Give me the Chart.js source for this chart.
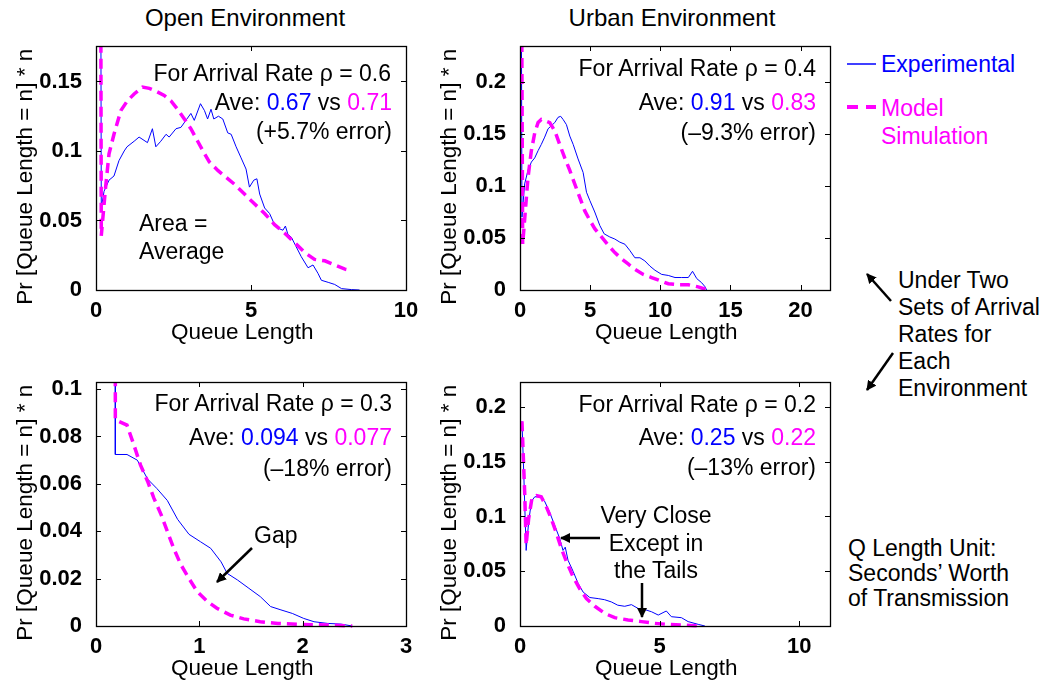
<!DOCTYPE html>
<html>
<head>
<meta charset="utf-8">
<script src="https://cdn.jsdelivr.net/npm/chart.js@4.4.1/dist/chart.umd.min.js"></script>
<style>
body { margin: 0; width: 1044px; height: 683px; background: #fff; position: relative; overflow: hidden; font-family: "Liberation Sans", Arial, sans-serif; }
.panel { position: absolute; width: 420px; height: 310px; }
.t { position: absolute; font-size: 23px; line-height: 26px; white-space: nowrap; color: #000; }
.h { font-size: 24px; line-height: 28px; }
.r { text-align: right; }
.c { transform: translateX(-50%); text-align: center; }
.b { color: #0000ff; }
.m { color: #ff00ff; }
svg { position: absolute; left: 0; top: 0; }
</style>
</head>
<body>
<div class="panel" style="left:0;top:36px"><canvas id="openHigh" width="420" height="310"></canvas></div>
<div class="panel" style="left:424px;top:36px"><canvas id="urbanHigh" width="420" height="310"></canvas></div>
<div class="panel" style="left:0;top:372px"><canvas id="openLow" width="420" height="310"></canvas></div>
<div class="panel" style="left:424px;top:372px"><canvas id="urbanLow" width="420" height="310"></canvas></div>

<div class="t h c" style="left:245px;top:4px">Open Environment</div>
<div class="t h c" style="left:672px;top:4px">Urban Environment</div>

<div class="t r" style="right:653px;top:60px">For Arrival Rate ρ = 0.6</div>
<div class="t r" style="right:652px;top:89px">Ave: <span class="b">0.67</span> vs <span class="m">0.71</span></div>
<div class="t r" style="right:652px;top:118px">(+5.7% error)</div>
<div class="t" style="left:139px;top:210px">Area =</div>
<div class="t" style="left:139px;top:238px">Average</div>

<div class="t r" style="right:228px;top:55px">For Arrival Rate ρ = 0.4</div>
<div class="t r" style="right:228px;top:89px">Ave: <span class="b">0.91</span> vs <span class="m">0.83</span></div>
<div class="t r" style="right:228px;top:119px">(–9.3% error)</div>

<div class="t r" style="right:652px;top:390px">For Arrival Rate ρ = 0.3</div>
<div class="t r" style="right:652px;top:424px">Ave: <span class="b">0.094</span> vs <span class="m">0.077</span></div>
<div class="t r" style="right:652px;top:455px">(–18% error)</div>
<div class="t" style="left:254px;top:522px">Gap</div>

<div class="t r" style="right:228px;top:391px">For Arrival Rate ρ = 0.2</div>
<div class="t r" style="right:228px;top:424px">Ave: <span class="b">0.25</span> vs <span class="m">0.22</span></div>
<div class="t r" style="right:228px;top:454px">(–13% error)</div>
<div class="t c" style="left:656px;top:502px">Very Close</div>
<div class="t c" style="left:656px;top:530px">Except in</div>
<div class="t c" style="left:656px;top:557px">the Tails</div>

<div class="t b" style="left:881px;top:51px">Experimental</div>
<div class="t m" style="left:881px;top:95px">Model</div>
<div class="t m" style="left:881px;top:123px">Simulation</div>

<div class="t" style="left:898px;top:267px;line-height:27px">Under Two<br>Sets of Arrival<br>Rates for<br>Each<br>Environment</div>
<div class="t" style="left:848px;top:536px;line-height:25px">Q Length Unit:<br>Seconds’ Worth<br>of Transmission</div>

<svg width="1044" height="683">
  <defs>
    <marker id="head" viewBox="0 0 10 10" refX="9" refY="5" markerWidth="4" markerHeight="4" orient="auto">
      <path d="M0,0 L10,5 L0,10 z" fill="#000"/>
    </marker>
  </defs>
  <g stroke="#000" stroke-width="2.5" marker-end="url(#head)">
    <line x1="252" y1="548" x2="217" y2="582"/>
    <line x1="600" y1="538" x2="561" y2="538"/>
    <line x1="642" y1="583" x2="642" y2="617"/>
    <line x1="891" y1="301" x2="867" y2="274"/>
    <line x1="893" y1="353" x2="867" y2="390"/>
  </g>
  <line x1="847" y1="64" x2="876" y2="64" stroke="#0000ff" stroke-width="1.5"/>
  <line x1="847" y1="107" x2="876" y2="107" stroke="#ff00ff" stroke-width="4" stroke-dasharray="11,8"/>
</svg>

<script>
// Open environment, rho = 0.6
const openHighExpX = [0.13, 0.17, 0.26, 0.42, 0.58, 0.74, 0.91, 1.0, 1.23, 1.39, 1.66, 1.82, 1.93, 2.09, 2.26, 2.36, 2.58, 2.74, 2.9, 3.06, 3.17, 3.37, 3.5, 3.6, 3.71, 3.8, 3.95, 4.09, 4.25, 4.36, 4.52, 4.68, 4.84, 4.95, 5.09, 5.19, 5.28, 5.44, 5.6, 5.76, 5.92, 6.03, 6.11, 6.19, 6.3, 6.46, 6.62, 6.84, 7.0, 7.16, 7.27, 7.49, 7.7, 7.92, 8.24, 8.5];
const openHighExpY = [0.5, 0.059, 0.071, 0.079, 0.082, 0.093, 0.1, 0.103, 0.107, 0.11, 0.106, 0.116, 0.103, 0.107, 0.112, 0.11, 0.116, 0.117, 0.122, 0.127, 0.122, 0.134, 0.129, 0.123, 0.13, 0.123, 0.125, 0.123, 0.113, 0.112, 0.103, 0.095, 0.087, 0.074, 0.079, 0.08, 0.069, 0.059, 0.055, 0.047, 0.044, 0.043, 0.046, 0.04, 0.038, 0.031, 0.024, 0.016, 0.018, 0.012, 0.007, 0.0055, 0.004, 0.001, 0.0003, 0];
const openHighSimX = [0.13, 0.17, 0.31, 0.42, 0.58, 0.8, 1.01, 1.23, 1.5, 1.72, 1.93, 2.2, 2.42, 2.63, 2.85, 3.06, 3.28, 3.5, 3.66, 3.93, 4.2, 4.47, 4.79, 5.11, 5.44, 5.76, 6.08, 6.41, 6.73, 7.05, 7.38, 7.7, 8.03, 8.24];
const openHighSimY = [0.5, 0.039, 0.074, 0.098, 0.112, 0.129, 0.136, 0.141, 0.146, 0.145, 0.143, 0.14, 0.136, 0.13, 0.123, 0.116, 0.107, 0.098, 0.092, 0.086, 0.081, 0.076, 0.069, 0.062, 0.055, 0.047, 0.041, 0.034, 0.027, 0.022, 0.021, 0.018, 0.015, 0.014];

// Urban environment, rho = 0.4
const urbanHighExpX = [0.05, 0.14, 0.33, 0.57, 0.81, 1.05, 1.29, 1.52, 1.76, 2.0, 2.24, 2.48, 2.71, 2.9, 3.07, 3.31, 3.55, 3.79, 4.14, 4.5, 4.74, 4.98, 5.33, 5.69, 6.0, 6.4, 6.76, 7.12, 7.48, 7.83, 8.19, 8.55, 8.9, 9.26, 9.62, 10.1, 10.57, 11.05, 11.5, 12.0, 12.3, 12.6, 12.95, 13.2, 13.3];
const urbanHighExpY = [0.5, 0.07, 0.102, 0.115, 0.123, 0.127, 0.134, 0.14, 0.147, 0.155, 0.158, 0.161, 0.166, 0.167, 0.164, 0.159, 0.148, 0.14, 0.126, 0.113, 0.094, 0.086, 0.075, 0.062, 0.054, 0.051, 0.049, 0.046, 0.044, 0.038, 0.031, 0.031, 0.028, 0.023, 0.019, 0.015, 0.014, 0.012, 0.012, 0.012, 0.018, 0.011, 0.007, 0.003, 0];
const urbanHighSimX = [0.05, 0.19, 0.38, 0.57, 0.81, 1.05, 1.29, 1.52, 1.76, 2.12, 2.48, 2.83, 3.19, 3.55, 3.9, 4.26, 4.62, 4.98, 5.33, 5.81, 6.29, 6.76, 7.24, 7.71, 8.19, 8.79, 9.38, 9.98, 10.57, 11.29, 12.0, 12.7, 13.4];
const urbanHighSimY = [0.5, 0.044, 0.076, 0.108, 0.134, 0.151, 0.161, 0.164, 0.163, 0.161, 0.153, 0.14, 0.127, 0.115, 0.102, 0.089, 0.076, 0.067, 0.059, 0.051, 0.043, 0.036, 0.03, 0.025, 0.02, 0.015, 0.012, 0.009, 0.006, 0.005, 0.005, 0.003, 0];

// Open environment, rho = 0.3
const openLowExpX = [0.187, 0.187, 0.30, 0.40, 0.50, 0.59, 0.69, 0.79, 0.90, 1.01, 1.11, 1.21, 1.27, 1.37, 1.48, 1.59, 1.69, 1.79, 1.90, 2.01, 2.11, 2.24, 2.37, 2.48];
const openLowExpY = [0.2, 0.0724, 0.0724, 0.070, 0.062, 0.058, 0.053, 0.045, 0.0387, 0.0356, 0.0328, 0.0271, 0.0222, 0.0194, 0.0159, 0.0124, 0.0082, 0.0068, 0.0053, 0.0032, 0.0018, 0.0011, 0.0008, 0];
const openLowSimX = [0.187, 0.187, 0.30, 0.37, 0.43, 0.50, 0.56, 0.63, 0.69, 0.75, 0.82, 0.90, 0.98, 1.08, 1.17, 1.30, 1.43, 1.59, 1.76, 1.98, 2.24, 2.48];
const openLowSimY = [0.2, 0.087, 0.0848, 0.076, 0.068, 0.061, 0.054, 0.047, 0.040, 0.033, 0.026, 0.020, 0.0145, 0.0103, 0.0075, 0.0046, 0.003, 0.0018, 0.0011, 0.0007, 0.0004, 0];

// Urban environment, rho = 0.2
const urbanLowExpX = [0.07, 0.14, 0.22, 0.31, 0.41, 0.53, 0.70, 0.88, 1.06, 1.24, 1.42, 1.54, 1.62, 1.72, 1.9, 2.08, 2.26, 2.5, 2.8, 3.03, 3.27, 3.5, 3.75, 3.99, 4.23, 4.47, 4.71, 4.95, 5.24, 5.42, 5.78, 6.02, 6.38, 6.62];
const urbanLowExpY = [0.187, 0.135, 0.069, 0.095, 0.114, 0.118, 0.118, 0.114, 0.104, 0.092, 0.08, 0.069, 0.072, 0.06, 0.05, 0.039, 0.031, 0.026, 0.025, 0.024, 0.022, 0.019, 0.018, 0.0195, 0.016, 0.015, 0.013, 0.01, 0.0137, 0.0085, 0.0076, 0.004, 0.0015, 0];
const urbanLowSimX = [0.07, 0.17, 0.22, 0.31, 0.43, 0.59, 0.76, 0.94, 1.12, 1.30, 1.48, 1.66, 1.9, 2.14, 2.38, 2.68, 3.03, 3.39, 3.87, 4.35, 4.83, 5.3, 5.78, 6.26, 6.37];
const urbanLowSimY = [0.187, 0.12, 0.074, 0.098, 0.117, 0.119, 0.118, 0.109, 0.098, 0.085, 0.071, 0.059, 0.045, 0.034, 0.025, 0.018, 0.0116, 0.0076, 0.0055, 0.004, 0.0024, 0.0015, 0.0009, 0.0003, 0];

const FONT = '"Liberation Sans", Arial, sans-serif';

// box round the plot with matlab-style ticks pointing inwards
const framePlugin = {
    id: 'frame',
    afterDraw(chart) {
        const { ctx, chartArea: a, scales } = chart;
        ctx.save();
        ctx.strokeStyle = '#000';
        ctx.lineWidth = 1;
        ctx.beginPath();
        scales.x.ticks.forEach(t => {
            const px = Math.round(scales.x.getPixelForValue(t.value)) + 0.5;
            ctx.moveTo(px, a.bottom); ctx.lineTo(px, a.bottom - 5);
            ctx.moveTo(px, a.top); ctx.lineTo(px, a.top + 5);
        });
        scales.y.ticks.forEach(t => {
            const py = Math.round(scales.y.getPixelForValue(t.value)) + 0.5;
            ctx.moveTo(a.left, py); ctx.lineTo(a.left + 5, py);
            ctx.moveTo(a.right, py); ctx.lineTo(a.right - 5, py);
        });
        ctx.stroke();
        ctx.lineWidth = 1.3;
        ctx.strokeRect(Math.round(a.left) + 0.5, Math.round(a.top) + 0.5, Math.round(a.right - a.left), Math.round(a.bottom - a.top));
        ctx.restore();
    }
};

function toPoints(xs, ys) {
    return xs.map((x, i) => ({ x: x, y: ys[i] }));
}

// fixed axis boxes so every plot area lands where the original has it
function fixBox(size, horizontal) {
    return s => {
        if (horizontal) s.height = size; else s.width = size;
        s.paddingTop = 0; s.paddingBottom = 0; s.paddingLeft = 0; s.paddingRight = 0;
    };
}

function makePanel(id, expX, expY, simX, simY, xMax, xStep, yMax, yStep) {
    const ctx = document.getElementById(id).getContext('2d');
    new Chart(ctx, {
        type: 'line',
        data: {
            datasets: [{
                label: 'Model Simulation',
                data: toPoints(simX, simY),
                borderColor: '#ff00ff',
                borderWidth: 3.5,
                borderDash: [10, 6],
                pointRadius: 0,
                tension: 0,
                clip: { left: 2, top: 0, right: 2, bottom: 4 }
            }, {
                label: 'Experimental',
                data: toPoints(expX, expY),
                borderColor: '#0000ff',
                borderWidth: 1,
                pointRadius: 0,
                tension: 0,
                clip: { left: 2, top: 0, right: 2, bottom: 4 }
            }]
        },
        options: {
            responsive: false,
            animation: false,
            devicePixelRatio: 1,
            events: [],
            layout: { padding: { left: 0, right: 14, top: 10, bottom: 0 } },
            plugins: { legend: { display: false }, tooltip: { enabled: false } },
            scales: {
                x: {
                    type: 'linear',
                    min: 0,
                    max: xMax,
                    afterFit: fixBox(56, true),
                    grid: { display: false },
                    border: { display: false },
                    ticks: {
                        stepSize: xStep,
                        includeBounds: false,
                        autoSkip: false,
                        maxRotation: 0,
                        padding: 0,
                        color: '#000',
                        font: { family: FONT, size: 22, weight: 'bold' }
                    },
                    title: {
                        display: true,
                        // trailing spaces nudge the label a little left, as in the original
                        text: 'Queue Length\u2002 ',
                        color: '#000',
                        padding: { top: 0, bottom: 0 },
                        font: { family: FONT, size: 22.5 }
                    }
                },
                y: {
                    min: 0,
                    max: yMax,
                    afterFit: fixBox(96, false),
                    grid: { display: false },
                    border: { display: false },
                    ticks: {
                        stepSize: yStep,
                        includeBounds: false,
                        padding: 6,
                        color: '#000',
                        font: { family: FONT, size: 22, weight: 'bold' },
                        callback: v => String(Number(v.toFixed(3)))
                    },
                    title: {
                        display: true,
                        text: 'Pr [Queue Length = n] * n\u2002 ',
                        color: '#000',
                        padding: { top: 12, bottom: 0 },
                        font: { family: FONT, size: 22.5 }
                    }
                }
            }
        },
        plugins: [framePlugin]
    });
}

makePanel('openHigh', openHighExpX, openHighExpY, openHighSimX, openHighSimY, 10, 5, 0.1755, 0.05);
makePanel('urbanHigh', urbanHighExpX, urbanHighExpY, urbanHighSimX, urbanHighSimY, 22.1, 5, 0.2346, 0.05);
makePanel('openLow', openLowExpX, openLowExpY, openLowSimX, openLowSimY, 3, 1, 0.103, 0.02);
makePanel('urbanLow', urbanLowExpX, urbanLowExpY, urbanLowSimX, urbanLowSimY, 11.1, 5, 0.2228, 0.05);
</script>
</body>
</html>
